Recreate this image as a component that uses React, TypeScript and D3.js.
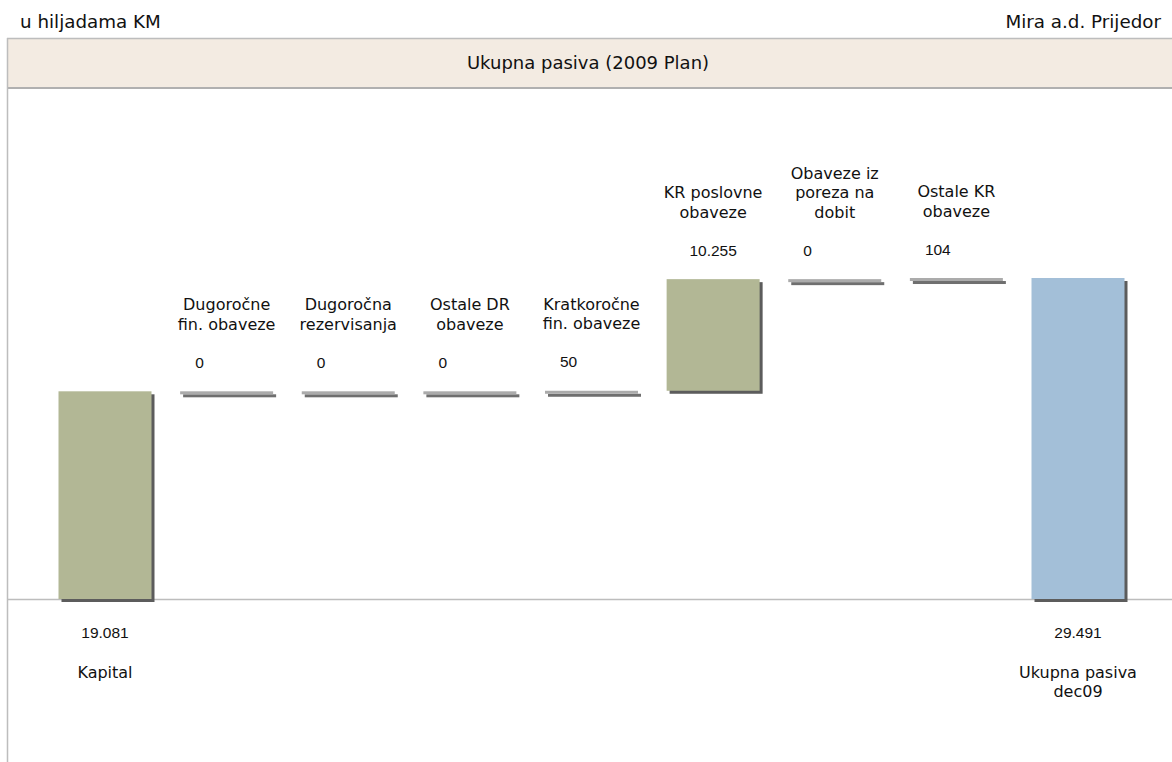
import React from "react";
import * as d3 from "d3";

const categories = [
  "Kapital",
  "Dugoročne\nfin. obaveze",
  "Dugoročna\nrezervisanja",
  "Ostale DR\nobaveze",
  "Kratkoročne\nfin. obaveze",
  "KR poslovne\nobaveze",
  "Obaveze iz\nporeza na\ndobit",
  "Ostale KR\nobaveze",
  "Ukupna pasiva\ndec09",
];
const values = [19081, 0, 0, 0, 50, 10255, 0, 104, 29491];
const valueLabels = ["19.081", "0", "0", "0", "50", "10.255", "0", "104", "29.491"];
const kinds = ["total", "delta", "delta", "delta", "delta", "delta", "delta", "delta", "total"];

const W = 1172;
const H = 762;
const BASE_Y = 599;
const TOP_Y = 278;
const BAR_W = 93;

export default function App() {
  const x = d3.scalePoint<number>().domain(d3.range(values.length)).range([105, 1078]);
  const y = d3.scaleLinear().domain([0, d3.max(values) as number]).range([BASE_Y, TOP_Y]);

  let running = 0;
  const bars = values.map((v, i) => {
    let lo: number, hi: number;
    if (kinds[i] === "total") {
      lo = 0;
      hi = v;
      running = v;
    } else {
      lo = running;
      hi = running + v;
      running = hi;
    }
    const yTop = y(hi);
    const yBot = y(lo);
    const h = Math.max(3, yBot - yTop);
    return { i, lo, hi, yTop, h, kind: kinds[i], value: v };
  });

  const catFont = "'DejaVu Sans', Verdana, sans-serif";
  const numFont = "'Liberation Sans', Arial, sans-serif";

  return (
    <svg
      width={W}
      height={H}
      style={{ position: "absolute", left: 0, top: 0, background: "#fff" }}
      xmlns="http://www.w3.org/2000/svg"
    >
      {/* header texts */}
      <text x={20} y={28} fontFamily={catFont} fontSize={18.3} fill="#111">
        u hiljadama KM
      </text>
      <text x={1161} y={28} fontFamily={catFont} fontSize={18.3} fill="#111" textAnchor="end">
        Mira a.d. Prijedor
      </text>

      {/* title band */}
      <rect x={7} y={38} width={W - 7} height={50} fill="#f3ebe2" />
      <line x1={7} x2={W} y1={38.5} y2={38.5} stroke="#bdbdbd" strokeWidth={1.5} />
      <line x1={7} x2={W} y1={88} y2={88} stroke="#b0b0b0" strokeWidth={2} />
      <line x1={7.5} x2={7.5} y1={38} y2={H} stroke="#bdbdbd" strokeWidth={1.5} />
      <text x={588} y={69} fontFamily={catFont} fontSize={18} fill="#111" textAnchor="middle">
        Ukupna pasiva (2009 Plan)
      </text>

      {/* baseline */}
      <line x1={7} x2={W} y1={BASE_Y + 0.5} y2={BASE_Y + 0.5} stroke="#bdbdbd" strokeWidth={1.5} />

      {bars.map((b) => {
        const cx = x(b.i) as number;
        const left = cx - BAR_W / 2;
        const thin = b.kind === "delta" && b.value < 1000;
        const fill =
          b.kind === "total" && b.i === values.length - 1
            ? "#a3bfd8"
            : thin
            ? "#ababab"
            : "#b2b795";
        const shadow = thin ? "#6f6f6f" : "#5c5c5c";
        const h = thin ? 3 : b.h;
        const lines = categories[b.i].split("\n");
        const lineH = 19.5;
        const isTotal = b.kind === "total";
        const valY = isTotal ? BASE_Y + 33 : b.yTop - 29;
        const valX = thin ? left + 15 : cx;
        const valAnchor = thin ? "start" : "middle";
        const catFirstY = BASE_Y + 73;
        const catLastY = valY - 38;
        return (
          <g key={b.i}>
            <rect x={left + 3} y={b.yTop + 3} width={BAR_W} height={h} fill={shadow} />
            <rect x={left} y={b.yTop} width={BAR_W} height={h} fill={fill} />
            <text
              x={valX}
              y={valY + 5.5}
              fontFamily={numFont}
              fontSize={15.5}
              fill="#111"
              textAnchor={valAnchor}
            >
              {valueLabels[b.i]}
            </text>
            <text fontFamily={catFont} fontSize={16} fill="#111" textAnchor="middle">
              {lines.map((ln, k) => {
                const ly = isTotal
                  ? catFirstY + k * lineH
                  : catLastY - (lines.length - 1 - k) * lineH;
                return (
                  <tspan key={k} x={cx} y={ly + 5.5}>
                    {ln}
                  </tspan>
                );
              })}
            </text>
          </g>
        );
      })}
    </svg>
  );
}
